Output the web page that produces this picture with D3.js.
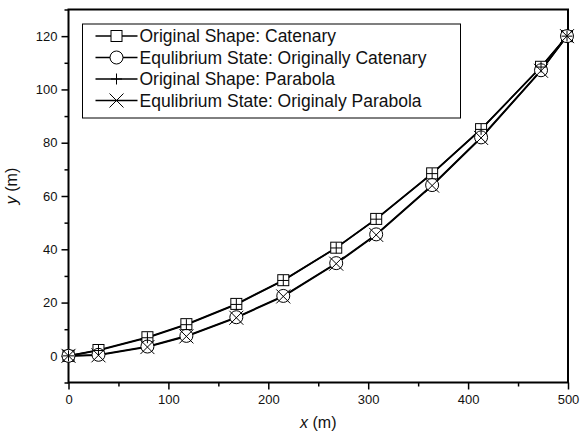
<!DOCTYPE html>
<html>
<head>
<meta charset="utf-8">
<script src="https://cdn.jsdelivr.net/npm/d3@7"></script>
<style>
  body { margin: 0; background: #fff; }
  svg { font-family: "Liberation Sans", Arial, sans-serif; }
</style>
</head>
<body>
<svg id="chart"></svg>
<script>
// positions along the span (m)
let xPos = [0, 30, 79, 118, 168, 215, 268, 308, 364, 413, 473, 499];

// heights (m)
let origCatenary = [0, 2.2, 7.0, 11.9, 19.5, 28.4, 40.6, 51.4, 68.5, 85.1, 108.5, 120];
let equilCatenary = [0, 0.4, 3.5, 7.5, 14.5, 22.5, 34.8, 45.6, 64.1, 82.0, 107.2, 120];
let origParabola = [0, 2.0, 6.8, 11.7, 19.3, 28.3, 40.5, 51.3, 68.4, 85.0, 108.4, 120];
let equilParabola = [0, 0.2, 3.3, 7.3, 14.3, 22.3, 34.6, 45.4, 63.9, 81.8, 107.0, 120];

let seriesNames = [
    'Original Shape: Catenary',
    'Equlibrium State: Originally Catenary',
    'Original Shape: Parabola',
    'Equlibrium State: Originaly Parabola'
];
let seriesMarkers = ['square', 'circle', 'plus', 'cross'];

let xTicks = [0, 100, 200, 300, 400, 500];
let yTicks = [0, 20, 40, 60, 80, 100, 120];

let margin = {top: 9.5, right: 12, bottom: 54.5, left: 68.5};
let width = 580 - margin.left - margin.right;
let height = 437 - margin.top - margin.bottom;

let svg = d3.select('#chart')
    .attr('width', 580)
    .attr('height', 437)
    .append('g')
    .attr('transform', 'translate(' + margin.left + ',' + margin.top + ')');

let xScale = d3.scaleLinear().domain([0, 500]).range([0, width]);
let yScale = d3.scaleLinear().domain([-10, 130]).range([height, 0]);

// minor ticks first
svg.append('g')
    .attr('transform', 'translate(0,' + height + ')')
    .call(d3.axisBottom(xScale).tickValues(d3.range(50, 500, 100)).tickSize(4).tickFormat(''))
    .call(g => g.select('.domain').remove());
svg.append('g')
    .call(d3.axisLeft(yScale).tickValues(d3.range(-10, 131, 20)).tickSize(4).tickFormat(''))
    .call(g => g.select('.domain').remove());

let xAxis = svg.append('g')
    .attr('transform', 'translate(0,' + height + ')')
    .call(d3.axisBottom(xScale).tickValues(xTicks).tickSize(7).tickPadding(5));
let yAxis = svg.append('g')
    .call(d3.axisLeft(yScale).tickValues(yTicks).tickSize(7).tickPadding(4));

svg.selectAll('.tick line').attr('stroke', '#000').attr('stroke-width', 1.5);
svg.selectAll('.domain').remove();
svg.selectAll('.tick text')
    .attr('fill', '#111')
    .style('font-size', '13px')
    .style('font-family', '"Liberation Sans", Arial, sans-serif');

// frame
svg.append('rect')
    .attr('width', width)
    .attr('height', height)
    .attr('fill', 'none')
    .attr('stroke', '#000')
    .attr('stroke-width', 2);

// axis titles
let xTitle = svg.append('text')
    .attr('x', width / 2)
    .attr('y', height + 45)
    .attr('text-anchor', 'middle')
    .style('font-size', '16px')
    .attr('fill', '#111');
xTitle.append('tspan').style('font-style', 'italic').text('x');
xTitle.append('tspan').text('  (m)');

let yTitle = svg.append('text')
    .attr('transform', 'translate(' + (-52) + ',' + (yScale(60) - 10) + ') rotate(-90)')
    .attr('text-anchor', 'middle')
    .style('font-size', '16px')
    .attr('fill', '#111');
yTitle.append('tspan').style('font-style', 'italic').text('y');
yTitle.append('tspan').text('  (m)');

let allSeries = [origCatenary, equilCatenary, origParabola, equilParabola];

let line = d3.line()
    .x(function (d, i) { return xScale(xPos[i]); })
    .y(function (d) { return yScale(d); });

allSeries.forEach(function (vals) {
    svg.append('path')
        .datum(vals)
        .attr('d', line)
        .attr('fill', 'none')
        .attr('stroke', '#000')
        .attr('stroke-width', 1.6);
});

function drawMarker(g, type, cx, cy) {
    if (type === 'square') {
        g.append('rect')
            .attr('x', cx - 5.5).attr('y', cy - 5.5)
            .attr('width', 11).attr('height', 11)
            .attr('fill', '#fff').attr('stroke', '#000').attr('stroke-width', 1);
    } else if (type === 'circle') {
        g.append('circle')
            .attr('cx', cx).attr('cy', cy).attr('r', 6.5)
            .attr('fill', '#fff').attr('stroke', '#000').attr('stroke-width', 1);
    } else if (type === 'plus') {
        g.append('path')
            .attr('d', 'M' + (cx - 5.5) + ',' + cy + 'H' + (cx + 5.5) + 'M' + cx + ',' + (cy - 5.5) + 'V' + (cy + 5.5))
            .attr('stroke', '#000').attr('stroke-width', 1);
    } else {
        g.append('path')
            .attr('d', 'M' + (cx - 7) + ',' + (cy - 7) + 'L' + (cx + 7) + ',' + (cy + 7) +
                'M' + (cx - 7) + ',' + (cy + 7) + 'L' + (cx + 7) + ',' + (cy - 7))
            .attr('stroke', '#000').attr('stroke-width', 1);
    }
}

allSeries.forEach(function (vals, s) {
    let g = svg.append('g');
    vals.forEach(function (v, i) {
        drawMarker(g, seriesMarkers[s], xScale(xPos[i]), yScale(v));
    });
});

// legend
let legend = svg.append('g').attr('transform', 'translate(14,14.5)');
legend.append('rect')
    .attr('width', 378)
    .attr('height', 94)
    .attr('fill', '#fff')
    .attr('stroke', '#000')
    .attr('stroke-width', 1);

seriesNames.forEach(function (name, i) {
    let cy = 12 + i * 21.5;
    let row = legend.append('g');
    row.append('line')
        .attr('x1', 13).attr('x2', 55)
        .attr('y1', cy).attr('y2', cy)
        .attr('stroke', '#000').attr('stroke-width', 1.6);
    drawMarker(row, seriesMarkers[i], 34, cy);
    row.append('text')
        .attr('x', 57)
        .attr('y', cy + 6.3)
        .style('font-size', '17.5px')
        .attr('fill', '#111')
        .text(name);
});
</script>
</body>
</html>
